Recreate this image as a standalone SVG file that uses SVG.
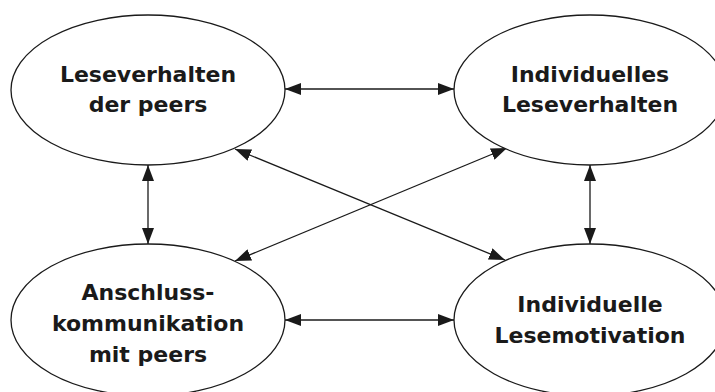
<svg xmlns="http://www.w3.org/2000/svg" width="715" height="392" viewBox="0 0 715 392">
<defs>
<marker id="ah" viewBox="0 0 16 12" refX="16" refY="6" markerWidth="16" markerHeight="12" markerUnits="userSpaceOnUse" orient="auto-start-reverse">
<path d="M0,0 L16,6 L0,12 Z" fill="#1a1a1a"/>
</marker>
</defs>
<style>
.node ellipse{fill:#fff;stroke:#1a1a1a;stroke-width:1.3}
.node text{font-family:"DejaVu Sans",sans-serif;font-weight:bold;font-size:22px;fill:#1a1a1a;text-anchor:middle}
.edges line{stroke:#1a1a1a;stroke-width:1.3;marker-start:url(#ah);marker-end:url(#ah)}
</style>
<rect width="715" height="392" fill="#fff"/>
<g class="edges" id="connectors">
<line x1="285" y1="89" x2="454" y2="89"/>
<line x1="285" y1="320" x2="454" y2="320"/>
<line x1="148" y1="165" x2="148" y2="244"/>
<line x1="590" y1="165" x2="590" y2="244"/>
<line x1="235" y1="149" x2="505" y2="260"/>
<line x1="507" y1="148" x2="235" y2="261"/>
</g>
<g class="node" id="n-peers">
<ellipse cx="148" cy="90" rx="137" ry="75"/>
<text x="148" y="82">Leseverhalten</text>
<text x="148" y="112">der peers</text>
</g>
<g class="node" id="n-indiv-verhalten">
<ellipse cx="590" cy="90" rx="136" ry="75"/>
<text x="590" y="82">Individuelles</text>
<text x="590" y="112">Leseverhalten</text>
</g>
<g class="node" id="n-anschluss">
<ellipse cx="148" cy="320" rx="137" ry="76"/>
<text x="148" y="300">Anschluss-</text>
<text x="148" y="331">kommunikation</text>
<text x="148" y="362">mit peers</text>
</g>
<g class="node" id="n-motivation">
<ellipse cx="590" cy="320" rx="136" ry="76"/>
<text x="590" y="312">Individuelle</text>
<text x="590" y="343">Lesemotivation</text>
</g>
</svg>
